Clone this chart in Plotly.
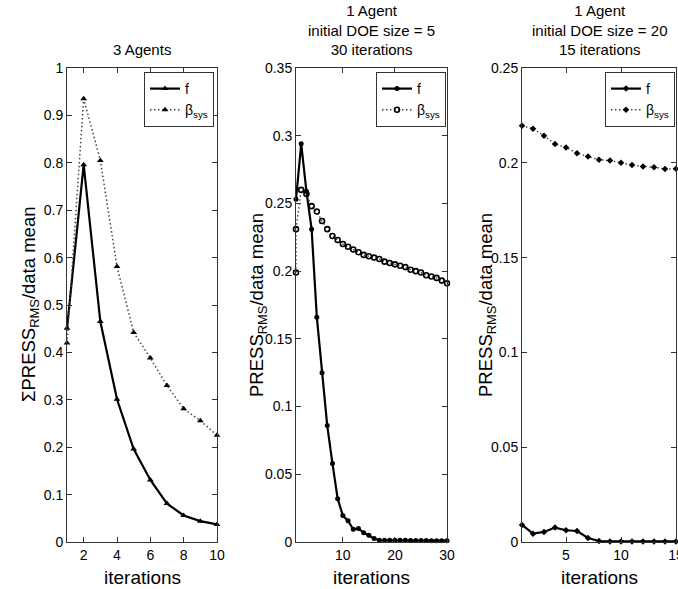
import plotly.graph_objects as go

# ---------------- data ----------------
# Panel 1: 3 Agents
p1_x = [1, 2, 3, 4, 5, 6, 7, 8, 9, 10]
p1_f = [0.451, 0.796, 0.465, 0.301, 0.196, 0.131, 0.081, 0.056, 0.044, 0.037]
p1_beta = [0.420, 0.935, 0.805, 0.581, 0.442, 0.388, 0.330, 0.281, 0.256, 0.225]

# Panel 2: 1 Agent, initial DOE size = 5, 30 iterations
p2_fx = list(range(1, 31))
p2_f = [0.253, 0.294, 0.259, 0.231, 0.166, 0.125, 0.086, 0.058, 0.032, 0.0195,
        0.0156, 0.0094, 0.0099, 0.0069, 0.0049, 0.0025, 0.0013, 0.0012, 0.0012, 0.0012,
        0.0012, 0.0012, 0.0011, 0.0011, 0.0011, 0.0011, 0.0010, 0.0010, 0.0010, 0.0010]
p2_bx = [1, 1] + list(range(2, 31))
p2_beta = [0.199, 0.231, 0.260, 0.257, 0.248, 0.244, 0.237, 0.231, 0.226, 0.223,
           0.220, 0.218, 0.216, 0.214, 0.212, 0.211, 0.210, 0.209, 0.207, 0.206,
           0.205, 0.204, 0.203, 0.201, 0.200, 0.199, 0.197, 0.196, 0.195, 0.193, 0.191]

# Panel 3: 1 Agent, initial DOE size = 20, 15 iterations
p3_x = list(range(1, 16))
p3_f = [0.0090, 0.0044, 0.0053, 0.0076, 0.0062, 0.0058, 0.0021, 0.0005, 0.0003,
        0.0003, 0.0003, 0.0003, 0.0003, 0.0003, 0.0003]
p3_beta = [0.2195, 0.2180, 0.2143, 0.2099, 0.2081, 0.2051, 0.2033, 0.2016, 0.2012,
           0.2000, 0.1988, 0.1981, 0.1977, 0.1967, 0.1968]

# tick labels
p1_xticks = [2, 4, 6, 8, 10]
p1_yticks = [0, 0.1, 0.2, 0.3, 0.4, 0.5, 0.6, 0.7, 0.8, 0.9, 1]
p1_ytext = ["0", "0.1", "0.2", "0.3", "0.4", "0.5", "0.6", "0.7", "0.8", "0.9", "1"]
p2_xticks = [10, 20, 30]
p2_yticks = [0, 0.05, 0.1, 0.15, 0.2, 0.25, 0.3, 0.35]
p2_ytext = ["0", "0.05", "0.1", "0.15", "0.2", "0.25", "0.3", "0.35"]
p3_xticks = [5, 10, 15]
p3_yticks = [0, 0.05, 0.1, 0.15, 0.2, 0.25]
p3_ytext = ["0", "0.05", "0.1", "0.15", "0.2", "0.25"]

titles = ["3 Agents",
          "1 Agent<br>initial DOE size = 5<br>30 iterations",
          "1 Agent<br>initial DOE size = 20<br>15 iterations"]
ylabels = ["ΣPRESS<sub>RMS</sub>/data mean",
           "PRESS<sub>RMS</sub>/data mean",
           "PRESS<sub>RMS</sub>/data mean"]
xlabel = "iterations"
names = ["f", "β<sub>sys</sub>"]

# ---------------- layout geometry ----------------
W, H = 678, 589
FONT = "Liberation Sans, Arial, Helvetica, sans-serif"
top_px, bot_px = 68, 542
panels_px = [(67, 217), (296, 447), (522, 676)]
ydom = [1 - bot_px / H, 1 - top_px / H]

fig = go.Figure()

BLACK = "black"
DOT = "1.5px,2.5px"

def add(x, y, name, axis, legend, dash, width, symbol, msize, mline=0, lcolor=BLACK):
    fig.add_trace(go.Scatter(
        x=x, y=y, name=name, mode="lines+markers",
        xaxis="x" + axis, yaxis="y" + axis, legend=legend,
        line=dict(color=lcolor, width=width, dash=dash),
        marker=dict(symbol=symbol, size=msize, color=BLACK,
                    line=dict(color=BLACK, width=mline)),
        cliponaxis=False,
    ))

LG = "#444"
# panel 1
add(p1_x, p1_f, names[0], "", "legend", "solid", 2.2, "triangle-up", 6)
add(p1_x, p1_beta, names[1], "", "legend", DOT, 1.5, "triangle-up", 6, lcolor=LG)
# panel 2
add(p2_fx, p2_f, names[0], "2", "legend2", "solid", 2.2, "circle", 5)
add(p2_bx, p2_beta, names[1], "2", "legend2", DOT, 1.4, "circle-open", 5, 1.6, lcolor=LG)
# panel 3
add(p3_x, p3_f, names[0], "3", "legend3", "solid", 2.2, "diamond", 5)
add(p3_x, p3_beta, names[1], "3", "legend3", DOT, 1.4, "diamond", 5, lcolor=LG)

axis_common = dict(showline=True, linecolor="#333", linewidth=1, mirror="ticks",
                   ticks="inside", ticklen=5, tickcolor="#333", showgrid=False,
                   zeroline=False, automargin=False, ticklabeloverflow="allow",
                   tickfont=dict(family=FONT, size=14, color=BLACK))

xranges = [[1, 10], [1, 30], [1, 15]]
yranges = [[0, 1], [0, 0.35], [0, 0.25]]
xticks = [p1_xticks, p2_xticks, p3_xticks]
yticks = [(p1_yticks, p1_ytext), (p2_yticks, p2_ytext), (p3_yticks, p3_ytext)]

layout = dict(width=W, height=H, margin=dict(l=0, r=0, t=0, b=0, autoexpand=False),
              paper_bgcolor="white", plot_bgcolor="white",
              font=dict(family=FONT, color=BLACK))
annotations = []
for i, (l, r) in enumerate(panels_px):
    sfx = "" if i == 0 else str(i + 1)
    layout["xaxis" + sfx] = dict(domain=[l / W, r / W], range=xranges[i],
                                 tickvals=xticks[i], anchor="y" + sfx, **axis_common)
    layout["yaxis" + sfx] = dict(domain=ydom, range=yranges[i], tickvals=yticks[i][0],
                                 ticktext=yticks[i][1], anchor="x" + sfx, **axis_common)
    cx = (l + r) / 2 / W
    annotations.append(dict(text=titles[i], x=cx, y=1 - 60 / H, xref="paper", yref="paper",
                            xanchor="center", yanchor="bottom", showarrow=False,
                            font=dict(size=15, family=FONT, color=BLACK)))
    annotations.append(dict(text=xlabel, x=cx, y=1 - 577 / H, xref="paper", yref="paper",
                            xanchor="center", yanchor="middle", showarrow=False,
                            font=dict(size=19, family=FONT, color=BLACK)))
    ylx = [30, 258, 487][i]
    annotations.append(dict(text=ylabels[i], x=ylx / W, y=1 - 305 / H, xref="paper",
                            yref="paper", xanchor="center", yanchor="middle",
                            textangle=-90, showarrow=False,
                            font=dict(size=18.5, family=FONT, color=BLACK)))
    legkey = "legend" + sfx
    layout[legkey] = dict(x=[214, 446, 675][i] / W, y=1 - 72 / H, xanchor="right",
                          yanchor="top", bgcolor="white", bordercolor="#333",
                          borderwidth=1, font=dict(size=14, family=FONT, color=BLACK),
                          itemwidth=30, tracegroupgap=0)
layout["annotations"] = annotations
fig.update_layout(**layout)
fig.write_html("out.html")
